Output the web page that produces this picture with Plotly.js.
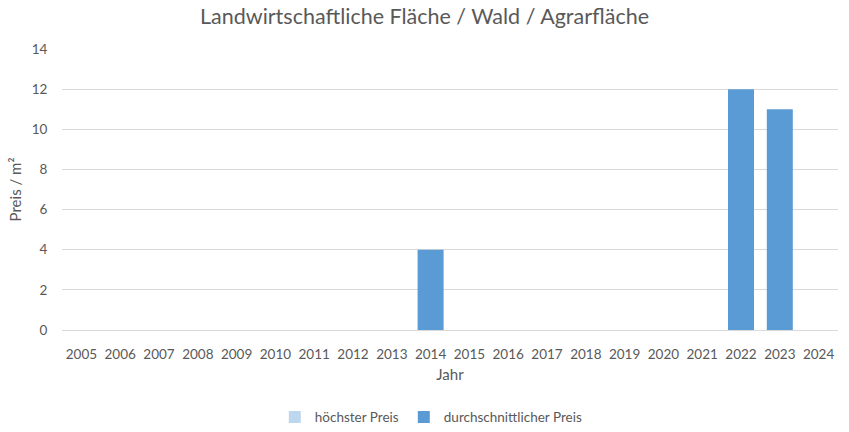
<!DOCTYPE html>
<html>
<head>
<meta charset="utf-8">
<script src="https://cdn.plot.ly/plotly-3.0.1.min.js"></script>
<style>html,body{margin:0;padding:0;background:#fff;}#chart{width:849px;height:432px;}</style>
</head>
<body>
<div id="chart"></div>
<script>
const years = ["2005","2006","2007","2008","2009","2010","2011","2012","2013","2014","2015","2016","2017","2018","2019","2020","2021","2022","2023","2024"];
const hoechsterPreis = [null,null,null,null,null,null,null,null,null,null,null,null,null,null,null,null,null,null,null,null];
const durchschnittlicherPreis = [null,null,null,null,null,null,null,null,null,4,null,null,null,null,null,null,null,12,11,null];
const yTicks = [0,2,4,6,8,10,12,14];

const font = "Lato, 'Open Sans', sans-serif";
const textColor = "#595959";

const data = [
  {type:"bar", name:"höchster Preis", x:years, y:hoechsterPreis, marker:{color:"#BDD7EE"}, width:0.67},
  {type:"bar", name:"durchschnittlicher Preis", x:years, y:durchschnittlicherPreis, marker:{color:"#5B9BD5"}, width:0.67}
];

const layout = {
  width:849, height:432,
  margin:{l:62, r:11, t:49, b:102, autoexpand:false},
  paper_bgcolor:"#fff", plot_bgcolor:"#fff",
  font:{family:font, color:textColor, size:13},
  barmode:"overlay",
  showlegend:true,
  title:{text:"Landwirtschaftliche Fläche / Wald / Agrarfläche", font:{size:21.5, color:textColor, family:font}, x:0.5, xanchor:"center", y:0.962, yanchor:"middle"},
  xaxis:{type:"category", automargin:false, tickvals:years, ticktext:years, range:[-0.5,19.5], showgrid:false, showline:false, zeroline:false,
         ticks:"outside", ticklen:12, tickcolor:"rgba(0,0,0,0)", tickfont:{size:13.5, color:textColor},
         title:{text:"Jahr", font:{size:15, color:textColor}, standoff:8}},
  yaxis:{range:[0,14], automargin:false, tickvals:yTicks, showgrid:true, gridcolor:"#D9D9D9", gridwidth:1, zeroline:true, zerolinecolor:"#D9D9D9", zerolinewidth:1, showline:false,
         ticks:"outside", ticklen:11, tickcolor:"rgba(0,0,0,0)", tickfont:{size:13.5, color:textColor},
         title:{text:"Preis / m²", font:{size:15, color:textColor}, standoff:6}},
  legend:{orientation:"h", xref:"container", x:0.508, xanchor:"center", y:-0.31, yanchor:"middle", font:{size:13.5, color:textColor}, itemwidth:30, traceorder:"normal"}
};

Plotly.newPlot("chart", data, layout, {staticPlot:true, displayModeBar:false});
</script>
</body>
</html>
